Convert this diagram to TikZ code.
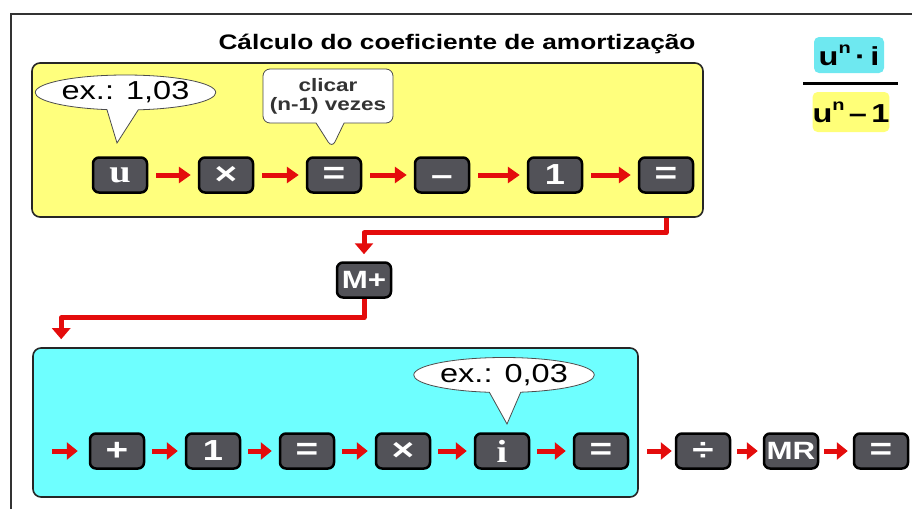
\documentclass[tikz,border=0pt]{standalone}
\usepackage{fontspec}
\setmainfont{Liberation Sans}[FakeStretch=1.25]
\newfontfamily\btnserif{Liberation Serif}[FakeStretch=1.2]
\usetikzlibrary{arrows.meta,shapes.geometric,shapes.callouts}
\definecolor{ylw}{RGB}{255,255,125}
\definecolor{cyn}{RGB}{110,255,255}
\definecolor{btn}{RGB}{82,82,88}
\definecolor{arr}{RGB}{228,12,12}
\definecolor{numbg}{RGB}{110,232,240}
\definecolor{denbg}{RGB}{255,255,120}
\tikzset{
  btnkey/.style={draw=black, line width=2.5pt, fill=btn, rounded corners=6pt,
    minimum width=54pt, minimum height=35pt, inner sep=0pt, text=white,
    font=\fontsize{31}{31}\selectfont\bfseries},
  panel/.style={draw=black!85, line width=1.6pt, rounded corners=8pt, inner sep=0pt},
  toparr/.style={draw=arr, line width=5pt, -{Triangle[length=12pt,width=16pt]},
    shorten <=8pt, shorten >=7pt},
  botarr/.style={draw=arr, line width=5pt, -{Triangle[length=11pt,width=17pt]},
    shorten <=7pt, shorten >=7pt},
  conn/.style={draw=arr, line width=5pt, line join=round},
  connarr/.style={conn, -{Triangle[length=11pt,width=18pt]}},
  bubble/.style={draw=black!70, line width=0.8pt, fill=white, inner sep=0pt},
}
\begin{document}
\begin{tikzpicture}[x=1pt,y=-1pt]
\useasboundingbox (0,0) rectangle (912,509);
% outer frame
\draw[line width=1.5pt, black!80] (11,509) -- (11,14) -- (912,14);
% title
\node[font=\fontsize{21}{21}\selectfont\bfseries] (title) at (457,44) {Cálculo do coeficiente de amortização};
% panels
\node[panel, fill=ylw, minimum width=671pt, minimum height=154pt] (yb) at (367.5,140) {};
\node[panel, fill=cyn, minimum width=605pt, minimum height=149pt] (cb) at (335.5,422.5) {};
% top row buttons
\node[btnkey, font=\fontsize{32}{32}\selectfont\btnserif\bfseries] (u) at (120,175) {u};
\node[btnkey] (t1) at (226,175) {×};
\node[btnkey] (q1) at (334,175) {=};
\node[btnkey] (m1) at (442,175) {\vphantom{1}–};
\node[btnkey, font=\fontsize{29}{29}\selectfont\bfseries] (o1) at (555,175) {1};
\node[btnkey] (q2) at (666,175) {=};
\draw[toparr] (u) -- (t1);
\draw[toparr] (t1) -- (q1);
\draw[toparr] (q1) -- (m1);
\draw[toparr] (m1) -- (o1);
\draw[toparr] (o1) -- (q2);
% callouts top
\coordinate (p1) at (117,143);
\coordinate (p2) at (332,148);
\node[bubble, ellipse callout, minimum width=175pt, minimum height=35pt,
  callout pointer arc=20, callout absolute pointer={(p1)},
  font=\fontsize{26}{26}\selectfont] (c1) at (125.5,92.5) {ex.: 1,03};
\node[bubble, rectangle callout, rounded corners=7pt, minimum width=130pt, minimum height=54pt,
  callout pointer width=28pt, callout absolute pointer={(p2)}, align=center,
  text=black!80, font=\fontsize{18}{19}\selectfont\bfseries] (c2) at (328,96) {clicar\\(n-1) vezes};
% M+
\node[btnkey, font=\fontsize{25}{25}\selectfont\bfseries] (mp) at (364,280) {M+};
\draw[connarr, shorten >=7pt] (yb.south -| q2) -- ++(0,15) -| (mp.north);
\draw[connarr, shorten >=8pt] (mp.south) -- ++(0,19) -| ([xshift=29pt]cb.north west);
% bottom row
\coordinate (start) at (52,451);
\node[btnkey] (pl) at (117,451) {+};
\node[btnkey, font=\fontsize{29}{29}\selectfont\bfseries] (o2) at (213,451) {1};
\node[btnkey] (q3) at (307,451) {=};
\node[btnkey] (t2) at (403,451) {×};
\node[btnkey, font=\fontsize{32}{32}\selectfont\btnserif\bfseries] (ii) at (502,451) {i};
\node[btnkey] (q4) at (601,451) {=};
\node[btnkey] (dv) at (703,451) {÷};
\node[btnkey, font=\fontsize{25}{25}\selectfont\bfseries] (mr) at (791,451) {MR};
\node[btnkey] (q5) at (881,451) {=};
\draw[botarr, shorten <=0pt, shorten >=11pt] (start) -- (pl);
\draw[botarr] (pl) -- (o2);
\draw[botarr] (o2) -- (q3);
\draw[botarr] (q3) -- (t2);
\draw[botarr] (t2) -- (ii);
\draw[botarr] (ii) -- (q4);
\draw[botarr, shorten <=18pt, shorten >=3pt] (q4) -- (dv);
\draw[botarr, shorten <=6pt, shorten >=5pt] (dv) -- (mr);
\draw[botarr, shorten <=5pt, shorten >=5pt] (mr) -- (q5);
% callout bottom
\coordinate (p3) at (507,424);
\node[bubble, ellipse callout, minimum width=178pt, minimum height=35pt,
  callout pointer arc=20, callout absolute pointer={(p3)},
  font=\fontsize{26}{26}\selectfont] (c3) at (504,375) {ex.: 0,03};
% fraction
\node[fill=numbg, rounded corners=5pt, minimum width=70pt, minimum height=36pt, inner sep=0pt,
  font=\fontsize{26}{26}\selectfont\bfseries] (num) at (849,55)
  {u\raisebox{0.45em}{\fontsize{16}{16}\selectfont n}\,·\,i};
\node[fill=denbg, rounded corners=5pt, minimum width=76pt, minimum height=40pt, inner sep=0pt,
  font=\fontsize{26}{26}\selectfont\bfseries] (den) at (851,112)
  {u\raisebox{0.45em}{\fontsize{16}{16}\selectfont n}\,–\,1};
\coordinate (fl) at (803,83);
\coordinate (fr) at (898,83);
\draw[line width=3pt, black] (fl) -- (fr);
\end{tikzpicture}
\end{document}
